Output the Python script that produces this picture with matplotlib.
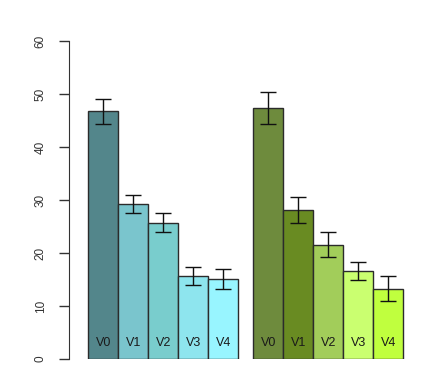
import numpy as np
import matplotlib.pyplot as plt

plt.rcParams['font.family'] = ['Liberation Sans', 'DejaVu Sans']

labels = ["V0", "V1", "V2", "V3", "V4"]

# group 1 (teal) and group 2 (green): means and error half-widths
means_a = [46.7, 29.2, 25.7, 15.7, 15.1]
err_a = [2.45, 1.65, 1.8, 1.7, 1.8]
means_b = [47.3, 28.1, 21.6, 16.6, 13.3]
err_b = [3.0, 2.5, 2.35, 1.65, 2.4]

colors_a = ["#53868B", "#7AC5CD", "#79CDCD", "#8EE5EE", "#98F5FF"]
colors_b = ["#6E8B3D", "#698B22", "#A2CD5A", "#CAFF70", "#C0FF3E"]

W, H = 422, 366
fig = plt.figure(figsize=(W / 100, H / 100), dpi=100)
# axes placed so that y 0..60 maps to pixel rows 359..41, axis line at x=69
ax = fig.add_axes([69 / W, 7 / H, (415 - 69) / W, 318 / H])

x_a = np.arange(5) + 0.5
x_b = np.arange(5) + 6.0

for xs, means, errs, cols in [(x_a, means_a, err_a, colors_a), (x_b, means_b, err_b, colors_b)]:
    ax.bar(xs, means, width=1.0, color=cols, edgecolor="#2b2b2b", linewidth=1.0)
    ax.errorbar(xs, means, yerr=errs, fmt="none", ecolor="#111111",
                elinewidth=1.0, capsize=6, capthick=1.0)
    for x, lab in zip(xs, labels):
        ax.text(x, 3.0, lab, ha="center", va="center", fontsize=9, color="#1a1a1a")

ax.set_xlim(-0.643, 10.89)
ax.set_ylim(0, 60)
ax.set_yticks([0, 10, 20, 30, 40, 50, 60])
ax.set_xticks([])
for s in ["top", "right", "bottom"]:
    ax.spines[s].set_visible(False)
ax.spines["left"].set_color("#333333")
ax.tick_params(axis="y", length=7, width=1, color="#333333", pad=9,
               labelsize=8.5, labelcolor="#333333")
for t in ax.get_yticklabels():
    t.set_rotation(90)
    t.set_va("center")

fig.savefig("out.png", dpi=100)
